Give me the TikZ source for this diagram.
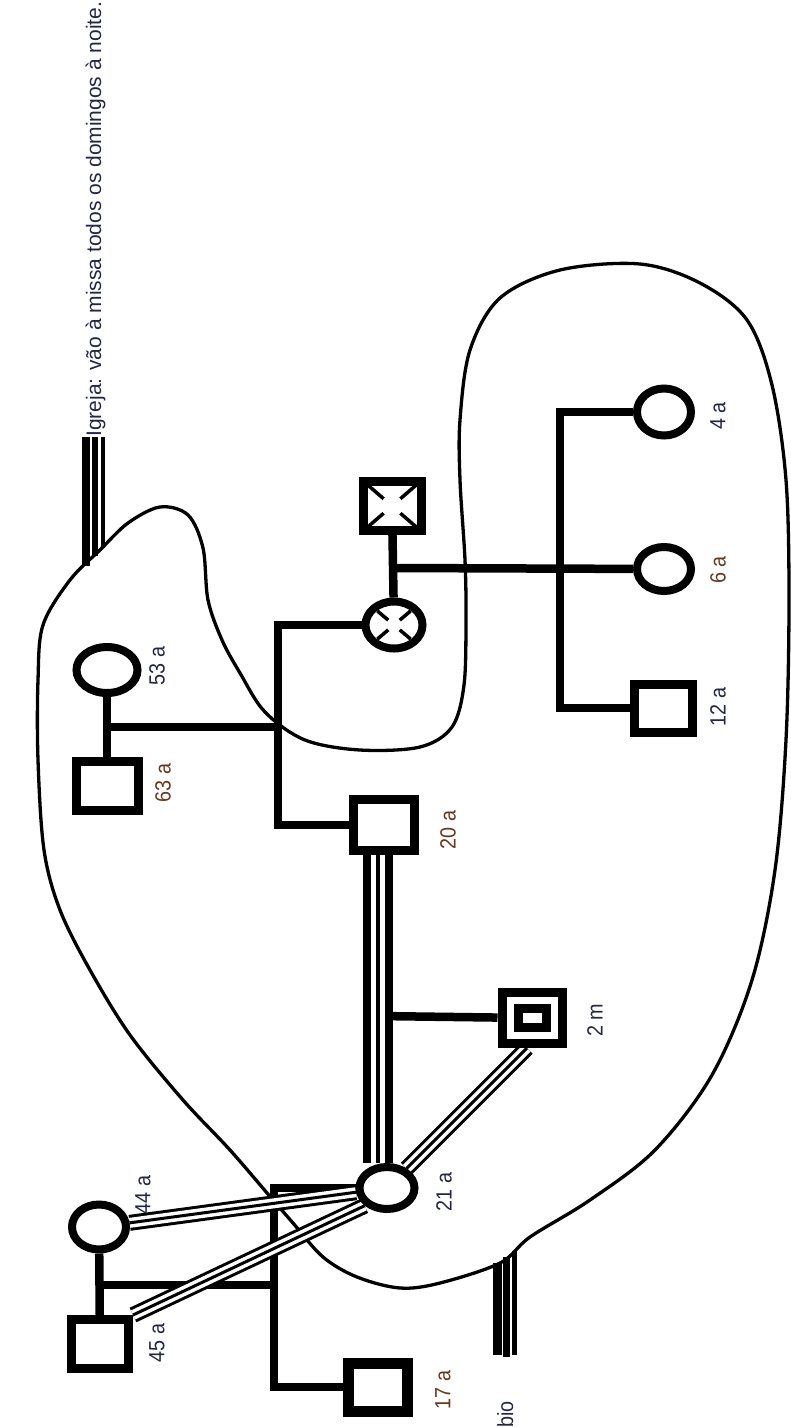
\documentclass[tikz,border=0pt]{standalone}
\usepackage{fontspec}
\setmainfont{Liberation Sans}
\usepackage{tikz}
\usetikzlibrary{shapes.geometric, positioning, calc, backgrounds}
\definecolor{labdark}{RGB}{35,38,70}
\definecolor{labbrown}{RGB}{105,55,30}
\tikzset{
  male/.style={rectangle, draw, fill=white, line width=9pt,
    minimum width=57pt, minimum height=49pt, inner sep=0pt},
  female/.style={ellipse, draw, fill=white, line width=8pt,
    minimum width=55pt, minimum height=45pt, inner sep=0pt},
  lab/.style={rotate=90, xscale=0.9, inner sep=0pt, text=labdark,
    font=\fontsize{22}{22}\selectfont},
  brownlab/.style={lab, text=labbrown},
  gline/.style={line width=8.5pt},
  house/.style={line width=3.3pt},
  close/.style={line width=3pt, preaction={draw, line width=16pt},
    preaction={draw=white, line width=10pt}},
  heavy/.style={line width=3.5pt, preaction={draw, line width=30pt},
    preaction={draw=white, line width=14pt}},
  xmark/.style={line width=3.5pt}
}
\begin{document}
\begin{tikzpicture}[x=1pt, y=-1pt]
  \useasboundingbox (0,0) rectangle (790,1427);

  % grandparents (mother's side)
  \node[male] (p45) at (100,1344) {};
  \node[female, minimum width=54pt, minimum height=45pt] (p44) at (99,1227) {};
  \node[male, minimum width=59pt, minimum height=48pt, line width=11pt] (p17) at (378,1387) {};
  \node[female, minimum width=55pt, minimum height=42pt] (p21) at (387,1188) {};

  % couple and baby
  \node[male, minimum width=61pt, minimum height=51pt] (p20) at (384,825) {};
  \node[male, minimum width=60pt, minimum height=51pt] (p2m) at (532,1018) {};
  \node[draw, line width=9pt, minimum width=28pt, minimum height=19pt, inner sep=0pt] (p2min) at (p2m) {};

  % grandparents (father's side)
  \node[male, minimum width=62pt, minimum height=49pt] (p63) at (107,786) {};
  \node[female, minimum width=61pt, minimum height=46pt] (p53) at (107,670) {};

  % deceased couple and their children
  \node[female, minimum width=57pt, minimum height=47pt] (pX) at (394,625) {};
  \node[male, minimum width=58pt, minimum height=49pt] (pXs) at (392,506) {};
  \node[female, minimum width=54pt, minimum height=47pt] (p4) at (664,412) {};
  \node[female, minimum width=54pt, minimum height=44pt] (p6) at (664,569) {};
  \node[male, minimum width=58pt, minimum height=48pt] (p12) at (663,708) {};

  \foreach \c in {north east, north west, south east, south west} {
    \draw[xmark] ($(pXs.center)!0.25!(pXs.\c)$) -- ($(pXs.center)!0.8!(pXs.\c)$);
    \draw[xmark] ($(pX.center)!0.25!(pX.\c)$) -- ($(pX.center)!0.72!(pX.\c)$);
  }

  % ages
  \node[lab] (t44) at (143,1195) {44 a};
  \node[lab] (t45) at (157,1343) {45 a};
  \node[lab] (t21) at (444,1192) {21 a};
  \node[brownlab] (t17) at (443,1390) {17 a};
  \node[brownlab] (t20) at (448,830) {20 a};
  \node[lab] (t2m) at (595,1020) {2 m};
  \node[brownlab] (t63) at (163,783) {63 a};
  \node[lab] (t53) at (157,666) {53 a};
  \node[lab] (t4) at (718,416) {4 a};
  \node[brownlab] (t6) at (718,570) {6 a};
  \node[lab] (t12) at (718,707) {12 a};

  \node[lab, xscale=1.1111, font=\fontsize{21}{21}\selectfont, anchor=base west] (tigreja) at (101,437) {Igreja: vão à missa todos os domingos à noite.};
  \node[lab, anchor=base east] (tbio) at (513,1401) {bio};

  \coordinate (j1) at (102,1285);
  \coordinate (j2) at (274,1285);
  \coordinate (j3) at (110,727);
  \coordinate (j4) at (278,727);
  \coordinate (j5) at (393,568);
  \coordinate (j6) at (560,568);
  \coordinate (c2m) at (378,1016);

  \coordinate (ga1) at (86,437);  \coordinate (gb1) at (86,566);
  \coordinate (ga2) at (95,437);  \coordinate (gb2) at (95,556);
  \coordinate (ga3) at (103,437); \coordinate (gb3) at (103,548);
  \coordinate (ba1) at (497,1355); \coordinate (bb1) at (497,1263);
  \coordinate (ba2) at (506,1357); \coordinate (bb2) at (506,1257);
  \coordinate (ba3) at (514,1355); \coordinate (bb3) at (514,1251);

  \begin{scope}[on background layer]
    % household line
    \draw[house] plot[smooth cycle, tension=0.55] coordinates {
      (70,580) (100,550) (128,523) (160,507) (188,515) (203,548) (208,600)
      (222,640) (240,673) (265,712) (305,740) (360,750) (420,747) (452,727)
      (464,685) (466,620) (465,560) (460,480) (460,420) (470,350) (500,298)
      (560,270) (640,264) (700,283) (747,320) (772,385) (786,480) (789,600)
      (786,740) (775,870) (752,980) (712,1075) (655,1150) (590,1200)
      (530,1237) (500,1263) (440,1283) (400,1288) (357,1277) (323,1257)
      (293,1223) (273,1200) (230,1150) (183,1100) (130,1035) (90,970)
      (60,910) (44,850) (38,760) (38,680) (43,625)};

    % church and the other outside tie
    \draw[line width=8pt] (ga1) -- (gb1);
    \draw[line width=6pt] (ga2) -- (gb2);
    \draw[line width=4pt] (ga3) -- (gb3);
    \draw[line width=9pt] (ba1) -- (bb1);
    \draw[line width=7pt] (ba2) -- (bb2);
    \draw[line width=5pt] (ba3) -- (bb3);

    % families
    \draw[gline] (p44) -- (p45);
    \draw[gline] (j1) -- (j2);
    \draw[gline] (p21) -| (j2) |- (p17);
    \draw[gline] (p53) -- (p63);
    \draw[gline] (j3) -- (j4);
    \draw[gline] (pX) -| (j4) |- (p20);
    \draw[gline] (pX) -- (pXs);
    \draw[gline] (j5) -- (p6);
    \draw[gline] (p4) -| (j6) |- (p12);
    \draw[gline] (c2m) -- (p2m);

    % close ties
    \draw[heavy] ([xshift=-6pt]p20.south) -- ([xshift=-9pt]p21.north);
    \draw[close] (p21) -- (p44);
    \draw[close] (p21.south west) -- (p45.north east);
    \draw[close] (p21) -- ([xshift=-5pt]p2m.south);
  \end{scope}
\end{tikzpicture}
\end{document}
